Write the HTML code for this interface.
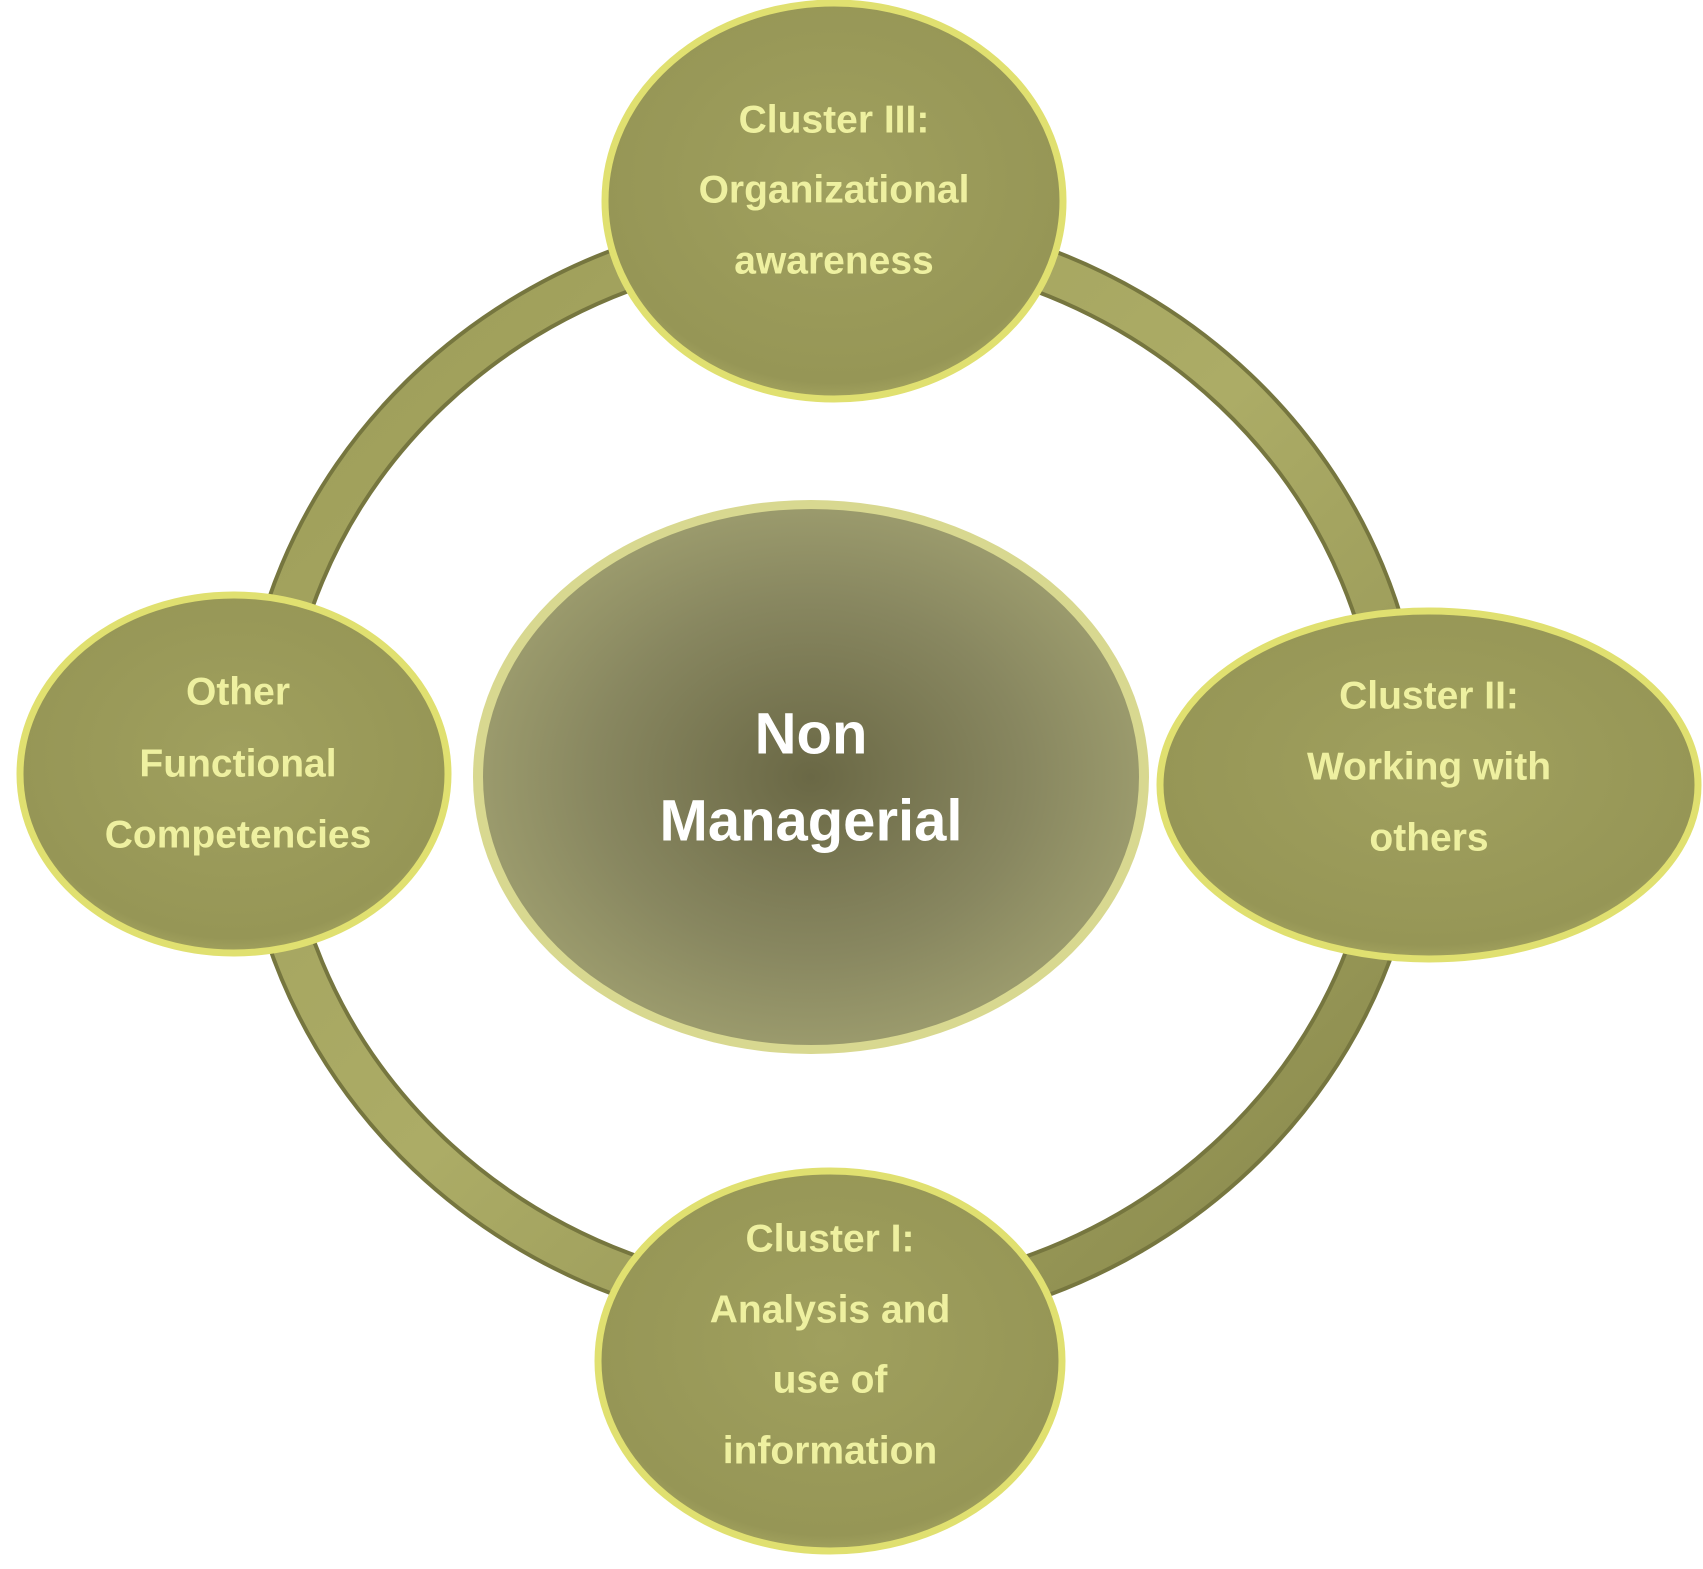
<!DOCTYPE html>
<html><head><meta charset="utf-8"><style>
html,body{margin:0;padding:0;background:#fff;}
svg{display:block;}
text{font-family:"Liberation Sans",sans-serif;font-weight:bold;text-anchor:middle;dominant-baseline:central;}
.s{fill:#eef0a0;font-size:39px;}
.c{fill:#fff;font-size:58px;}
</style></head><body>
<svg width="1703" height="1569" viewBox="0 0 1703 1569" xmlns="http://www.w3.org/2000/svg">
<defs>
<linearGradient id="ring" x1="0" y1="0" x2="1" y2="1">
<stop offset="0" stop-color="#9c9c58"/><stop offset="0.5" stop-color="#acac66"/><stop offset="1" stop-color="#86864a"/>
</linearGradient>
<radialGradient id="node" cx="0.5" cy="0.45" r="0.6">
<stop offset="0" stop-color="#a0a05e"/><stop offset="0.85" stop-color="#969656"/><stop offset="1" stop-color="#b0b066"/>
</radialGradient>
<radialGradient id="ctr" cx="0.5" cy="0.5" r="0.55">
<stop offset="0" stop-color="#6a6845"/><stop offset="0.6" stop-color="#888760"/><stop offset="1" stop-color="#a0a070"/>
</radialGradient>
</defs>
<ellipse cx="832" cy="772" rx="570" ry="540" fill="none" stroke="#76763f" stroke-width="48"/>
<ellipse cx="832" cy="772" rx="570" ry="540" fill="none" stroke="url(#ring)" stroke-width="40"/>
<ellipse cx="811" cy="777" rx="338" ry="277" fill="#d8d890"/>
<ellipse cx="811" cy="777" rx="328" ry="268" fill="url(#ctr)"/>
<g stroke="#e0e070" stroke-width="7">
<ellipse cx="834" cy="201" rx="229" ry="198" fill="url(#node)"/>
<ellipse cx="234" cy="774" rx="214" ry="179" fill="url(#node)"/>
<ellipse cx="1429" cy="785" rx="269" ry="174" fill="url(#node)"/>
<ellipse cx="830" cy="1361" rx="232" ry="190" fill="url(#node)"/>
</g>
<text class="s" x="834" y="120">Cluster III:</text>
<text class="s" x="834" y="190">Organizational</text>
<text class="s" x="834" y="261">awareness</text>
<text class="s" x="238" y="692">Other</text>
<text class="s" x="238" y="764">Functional</text>
<text class="s" x="238" y="835">Competencies</text>
<text class="s" x="1429" y="696">Cluster II:</text>
<text class="s" x="1429" y="767">Working with</text>
<text class="s" x="1429" y="838">others</text>
<text class="s" x="830" y="1239">Cluster I:</text>
<text class="s" x="830" y="1310">Analysis and</text>
<text class="s" x="830" y="1380">use of</text>
<text class="s" x="830" y="1451">information</text>
<text class="c" x="811" y="734">Non</text>
<text class="c" x="811" y="821">Managerial</text>
</svg>
</body></html>
